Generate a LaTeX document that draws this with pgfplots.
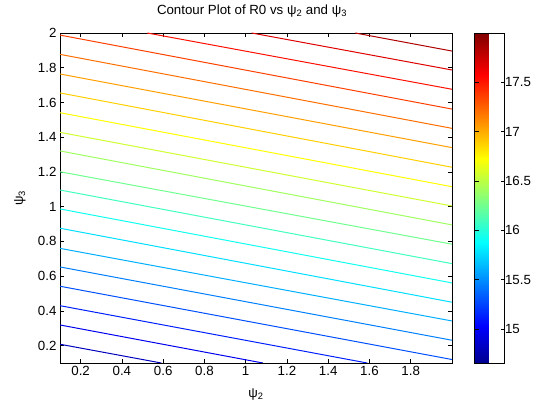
\documentclass[border=0pt]{standalone}
\usepackage{pgfplots}
\pgfplotsset{compat=1.18}
\usepackage{fontspec}
\setmainfont{Liberation Sans}
\newcommand{\fs}{\fontsize{13.3bp}{15bp}\selectfont}
\pgfplotsset{
  /pgf/number format/assume math mode=true,
  tick label style={font=\fs},
  colormap={matjet}{rgb(0pt)=(0,0,0.5625); rgb(7pt)=(0,0,1); rgb(23pt)=(0,1,1); rgb(39pt)=(1,1,0); rgb(55pt)=(1,0,0); rgb(63pt)=(0.5,0,0)},
}
\begin{document}
\begin{tikzpicture}
\path[use as bounding box] (-60bp,-42bp) rectangle (477bp,363bp);
\begin{axis}[
  at={(0,0)}, anchor=south west,
  scale only axis, width=392bp, height=330bp,
  xmin=0.1, xmax=2, ymin=0.1, ymax=2,
  xtick={0.2,0.4,0.6,0.8,1,1.2,1.4,1.6,1.8},
  ytick={0.2,0.4,0.6,0.8,1,1.2,1.4,1.6,1.8,2},
  tick align=inside, major tick length=4bp,
  every tick/.style={black, line width=0.6bp},
  axis line style={line width=0.8bp},
  title={Contour Plot of R0 vs ψ\textsubscript{2} and ψ\textsubscript{3}},
  title style={font=\fs, at={(rel axis cs:0.5,1)}, anchor=base, yshift=13bp, xshift=-4bp},
  xlabel={ψ\textsubscript{2}},
  xlabel style={font=\fs, at={(rel axis cs:0.5,0)}, anchor=base, yshift=-34bp},
  ylabel={ψ\textsubscript{3}},
  ylabel style={font=\fs, at={(rel axis cs:0,0.5)}, anchor=base, yshift=37bp},
  point meta min=14.655, point meta max=18.0,
  colormap name=matjet,
  colorbar,
  colorbar style={
    at={(parent axis.north east)}, anchor=north west, xshift=14bp,
    scale only axis, width=30bp, height=330bp,
    ytick={15,15.5,16,16.5,17,17.5},
    ytick pos=both, yticklabel pos=right,
    tick align=inside, major tick length=4bp,
    axis line style={line width=0.8bp},
    yticklabel style={font=\fs, xshift=-3bp},
  },
]
\addplot[mesh, point meta=14.814, line width=1bp] coordinates {(0.1,0.208) (0.591,0.1)};
\addplot[mesh, point meta=14.974, line width=1bp] coordinates {(0.1,0.319) (1.083,0.1)};
\addplot[mesh, point meta=15.133, line width=1bp] coordinates {(0.1,0.430) (1.589,0.1)};
\addplot[mesh, point meta=15.292, line width=1bp] coordinates {(0.1,0.542) (2,0.120)};
\addplot[mesh, point meta=15.452, line width=1bp] coordinates {(0.1,0.653) (2,0.231)};
\addplot[mesh, point meta=15.611, line width=1bp] coordinates {(0.1,0.760) (2,0.342)};
\addplot[mesh, point meta=15.770, line width=1bp] coordinates {(0.1,0.876) (2,0.450)};
\addplot[mesh, point meta=15.929, line width=1bp] coordinates {(0.1,0.987) (2,0.561)};
\addplot[mesh, point meta=16.089, line width=1bp] coordinates {(0.1,1.096) (2,0.672)};
\addplot[mesh, point meta=16.248, line width=1bp] coordinates {(0.1,1.201) (2,0.784)};
\addplot[mesh, point meta=16.407, line width=1bp] coordinates {(0.1,1.321) (2,0.895)};
\addplot[mesh, point meta=16.567, line width=1bp] coordinates {(0.1,1.428) (2,1.004)};
\addplot[mesh, point meta=16.726, line width=1bp] coordinates {(0.1,1.541) (2,1.115)};
\addplot[mesh, point meta=16.885, line width=1bp] coordinates {(0.1,1.655) (2,1.227)};
\addplot[mesh, point meta=17.044, line width=1bp] coordinates {(0.1,1.764) (2,1.340)};
\addplot[mesh, point meta=17.204, line width=1bp] coordinates {(0.1,1.877) (2,1.451)};
\addplot[mesh, point meta=17.363, line width=1bp] coordinates {(0.1,1.988) (2,1.562)};
\addplot[mesh, point meta=17.522, line width=1bp] coordinates {(0.523,2) (2,1.676)};
\addplot[mesh, point meta=17.682, line width=1bp] coordinates {(1.029,2) (2,1.787)};
\addplot[mesh, point meta=17.841, line width=1bp] coordinates {(1.531,2) (2,1.896)};
\end{axis}
\end{tikzpicture}
\end{document}
